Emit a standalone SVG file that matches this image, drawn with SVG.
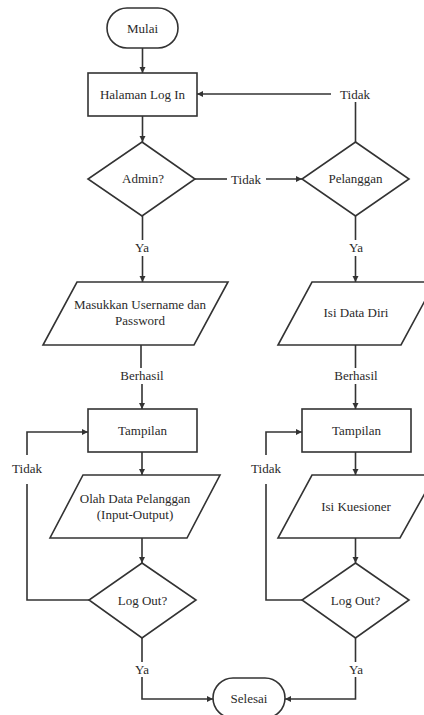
<svg xmlns="http://www.w3.org/2000/svg" width="424" height="715" viewBox="0 0 424 715" font-family="'Liberation Serif', 'Times New Roman', serif">
<style>
.s{fill:#fff;stroke:#333;stroke-width:1.6}
.c{fill:none;stroke:#333;stroke-width:1.6}
.t{font-family:'Liberation Serif','Times New Roman',serif;font-size:13px;fill:#2a2a2a;text-anchor:middle;dominant-baseline:central}
</style>
<defs>
<marker id="a" markerUnits="userSpaceOnUse" markerWidth="7" markerHeight="7" refX="6" refY="3" orient="auto">
<path d="M0,0 L6,3 L0,6 Z" fill="#333"/>
</marker>
</defs>
<rect width="424" height="715" fill="#fff"/>
<g id="connectors">
<path class="c" d="M142.5,48 V73" marker-end="url(#a)"/>
<path class="c" d="M142.5,116 V142" marker-end="url(#a)"/>
<path class="c" d="M195,179 H227"/>
<text class="t" x="246" y="179">Tidak</text>
<path class="c" d="M266,179 H302" marker-end="url(#a)"/>
<path class="c" d="M355.5,142 V102"/>
<text class="t" x="355" y="94">Tidak</text>
<path class="c" d="M331,94 H197" marker-end="url(#a)"/>
<path class="c" d="M142.5,216 V240"/>
<text class="t" x="142" y="247">Ya</text>
<path class="c" d="M142.5,256 V282" marker-end="url(#a)"/>
<path class="c" d="M355.5,216 V240"/>
<text class="t" x="356" y="247">Ya</text>
<path class="c" d="M355.5,256 V282" marker-end="url(#a)"/>
<path class="c" d="M141,345 V368"/>
<text class="t" x="142" y="375">Berhasil</text>
<path class="c" d="M142,384 V409" marker-end="url(#a)"/>
<path class="c" d="M355.5,345 V368"/>
<text class="t" x="356" y="375">Berhasil</text>
<path class="c" d="M355.5,384 V409" marker-end="url(#a)"/>
<path class="c" d="M142,452 V475" marker-end="url(#a)"/>
<path class="c" d="M355.5,452 V475" marker-end="url(#a)"/>
<path class="c" d="M142,538 V563" marker-end="url(#a)"/>
<path class="c" d="M355.5,538 V563" marker-end="url(#a)"/>
<path class="c" d="M142,638 V662"/>
<text class="t" x="142" y="669">Ya</text>
<path class="c" d="M142,677 V699 H213" marker-end="url(#a)"/>
<path class="c" d="M355.5,638 V662"/>
<text class="t" x="356" y="669">Ya</text>
<path class="c" d="M355.5,677 V699 H285" marker-end="url(#a)"/>
<path class="c" d="M89,600 H27 V484"/>
<text class="t" x="27" y="468">Tidak</text>
<path class="c" d="M27,455 V432 H88" marker-end="url(#a)"/>
<path class="c" d="M302,600 H266 V484"/>
<text class="t" x="266" y="468">Tidak</text>
<path class="c" d="M266,455 V432 H302" marker-end="url(#a)"/>
</g>
<g id="mulai"><rect class="s" x="107" y="8" width="71" height="40" rx="20"/><text class="t" x="142.5" y="28">Mulai</text></g>
<g id="halaman"><rect class="s" x="88" y="73" width="109" height="43"/><text class="t" x="142.5" y="94">Halaman Log In</text></g>
<g id="admin"><polygon class="s" points="142,142 195,179 142,216 88,179"/><text class="t" x="143" y="178">Admin?</text></g>
<g id="pelanggan"><polygon class="s" points="355.5,142 409,179 355.5,216 302,179"/><text class="t" x="355.5" y="178">Pelanggan</text></g>
<g id="masukkan"><polygon class="s" points="77,282 228,282 194,345 43,345"/><text class="t" x="140" y="304">Masukkan Username dan</text><text class="t" x="140" y="320">Password</text></g>
<g id="isidata"><polygon class="s" points="312,282 435,282 401,345 278,345"/><text class="t" x="356" y="312">Isi Data Diri</text></g>
<g id="tampilan1"><rect class="s" x="88" y="409" width="109" height="43"/><text class="t" x="142.5" y="430">Tampilan</text></g>
<g id="tampilan2"><rect class="s" x="302" y="409" width="109" height="43"/><text class="t" x="356.5" y="430">Tampilan</text></g>
<g id="olah"><polygon class="s" points="83,475 220,475 187,538 50,538"/><text class="t" x="135" y="498">Olah Data Pelanggan</text><text class="t" x="135" y="514">(Input-Output)</text></g>
<g id="kuesioner"><polygon class="s" points="312,475 435,475 400,538 278,538"/><text class="t" x="356" y="506">Isi Kuesioner</text></g>
<g id="logout1"><polygon class="s" points="142,563 196,600 142,638 89,600"/><text class="t" x="142.5" y="600">Log Out?</text></g>
<g id="logout2"><polygon class="s" points="355.5,563 409,600 355.5,638 302,600"/><text class="t" x="355.5" y="600">Log Out?</text></g>
<g id="selesai"><rect class="s" x="213" y="678" width="72" height="40" rx="20"/><text class="t" x="249" y="698">Selesai</text></g>
</svg>
